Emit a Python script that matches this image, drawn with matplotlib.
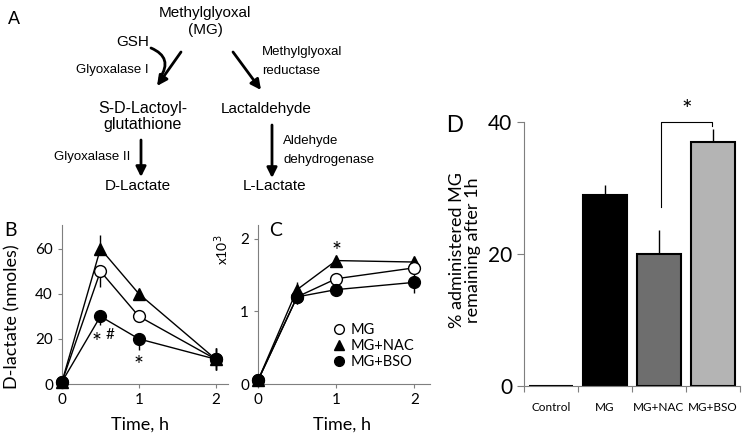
import numpy as np
import matplotlib.pyplot as plt
from matplotlib.lines import Line2D

# panel B / C data (time in h)
time = [0, 0.5, 1, 2]
b_mg = [1, 50, 30, 11]
b_nac = [1, 60, 40, 11]
b_bso = [1, 30, 20, 11]
b_mg_err = [[0, 7, 0, 5], [0, 0, 0, 5]]
b_nac_err = [[0, 0, 0, 5], [0, 6, 0, 5]]
b_bso_err = [[0, 4, 5, 5], [0, 0, 0, 5]]

c_mg = [0.05, 1.2, 1.45, 1.6]
c_nac = [0.05, 1.3, 1.7, 1.68]
c_bso = [0.05, 1.2, 1.3, 1.4]
c_err_lo = [0, 0.1, 0, 0.15]
c_err_hi = [0, 0.1, 0.05, 0.05]

# panel D data
groups = ['Control', 'MG', 'MG+NAC', 'MG+BSO']
remaining = [0, 29, 20, 37]
remaining_err = [0, 1.5, 3.6, 2]
bar_colors = ['#808080', 'black', '#6e6e6e', '#b4b4b4']

W, H = 750, 442
fig = plt.figure(figsize=(7.5, 4.42), dpi=100)
lato = ['Lato', 'DejaVu Sans']
arial = ['Liberation Sans', 'DejaVu Sans']
plt.rcParams['font.family'] = lato
axcol = '#7f7f7f'


def rect(l, t, r, b):
    return [l / W, 1 - b / H, (r - l) / W, (b - t) / H]


# ---- panel A: pathway, drawn in pixel coordinates
a0 = fig.add_axes([0, 0, 1, 1])
a0.set_xlim(0, W)
a0.set_ylim(H, 0)
a0.axis('off')

def t(x, y, s, size=11, ha='center'):
    a0.text(x, y, s, fontsize=size, ha=ha, va='center', family=arial)

t(14, 19, 'A', 13)
t(205, 13, 'Methylglyoxal')
t(205, 30, '(MG)')
t(133, 42, 'GSH')
t(112, 70, 'Glyoxalase I', 9.5)
t(262, 52, 'Methylglyoxal', 9.5, 'left')
t(262, 71, 'reductase', 9.5, 'left')
t(143, 108, 'S-D-Lactoyl-', 11.5)
t(143, 125, 'glutathione', 11.5)
t(266, 109, 'Lactaldehyde')
t(92, 157, 'Glyoxalase II', 9.5)
t(138, 186, 'D-Lactate')
t(275, 186, 'L-Lactate')
t(283, 141, 'Aldehyde', 9.5, 'left')
t(283, 160, 'dehydrogenase', 9.5, 'left')
t(455, 126, 'D', 17)

ap = dict(arrowstyle='-|>', lw=2, color='black', mutation_scale=15, shrinkA=0, shrinkB=0)
a0.annotate('', xy=(157, 86), xytext=(181, 52), arrowprops=ap)
a0.annotate('', xy=(261, 90), xytext=(233, 52), arrowprops=ap)
a0.annotate('', xy=(141, 177), xytext=(141, 140), arrowprops=ap)
a0.annotate('', xy=(272, 178), xytext=(272, 125), arrowprops=ap)
a0.annotate('', xy=(160, 78), xytext=(151, 48),
            arrowprops=dict(arrowstyle='-', lw=2, color='black', shrinkA=0, shrinkB=0,
                            connectionstyle='arc3,rad=-0.6'))


def style(ax):
    for s in ['top', 'right']:
        ax.spines[s].set_visible(False)
    for s in ['left', 'bottom']:
        ax.spines[s].set_color(axcol)
    ax.tick_params(colors=axcol, labelcolor='black', length=3, labelsize=11)


def series(ax, y, err, mk, fc, ms=8.5):
    ax.errorbar(time, y, yerr=err, fmt='-', color='black', lw=1, elinewidth=1, capsize=0,
                marker=mk, ms=ms, mfc=fc, mec='black', mew=1, clip_on=False, zorder=3)


# ---- panel B
axB = fig.add_axes(rect(62, 225, 228, 384))
style(axB)
series(axB, b_nac, b_nac_err, '^', 'black', 9)
series(axB, b_mg, b_mg_err, 'o', 'white')
series(axB, b_bso, b_bso_err, 'o', 'black')
axB.set_xlim(0, 2.16)
axB.set_ylim(0, 70.5)
axB.set_xticks([0, 1, 2])
axB.set_yticks([0, 20, 40, 60])
axB.text(0.455, 18.5, '*', fontsize=17, ha='center', va='center')
axB.text(0.62, 21.7, '#', fontsize=11, ha='center', va='center')
axB.text(1, 8.3, '*', fontsize=17, ha='center', va='center')
fig.text(12 / W, 1 - 317 / H, 'D-lactate (nmoles)', rotation=90, fontsize=13,
         ha='center', va='center')
fig.text(140 / W, 1 - 425 / H, 'Time, h', fontsize=13, ha='center', va='center')
fig.text(11 / W, 1 - 230 / H, 'B', fontsize=14, ha='center', va='center')

# ---- panel C
axC = fig.add_axes(rect(258, 225, 430, 384))
style(axC)
series(axC, c_nac, [c_err_lo, c_err_hi], '^', 'black', 9)
series(axC, c_mg, [c_err_lo, c_err_hi], 'o', 'white')
series(axC, c_bso, [c_err_lo, c_err_hi], 'o', 'black')
axC.set_xlim(0, 2.2)
axC.set_ylim(0, 2.19)
axC.set_xticks([0, 1, 2])
axC.set_yticks([0, 1, 2])
axC.text(1, 1.83, '*', fontsize=17, ha='center', va='center')
fig.text(222 / W, 1 - 250 / H, 'x10$^3$', rotation=90, fontsize=10, ha='center', va='center')
fig.text(342 / W, 1 - 425 / H, 'Time, h', fontsize=13, ha='center', va='center')
fig.text(276 / W, 1 - 230 / H, 'C', fontsize=14, ha='center', va='center')
hs = [Line2D([], [], ls='none', marker='o', mfc='white', mec='black', ms=7),
      Line2D([], [], ls='none', marker='^', mfc='black', mec='black', ms=7),
      Line2D([], [], ls='none', marker='o', mfc='black', mec='black', ms=7)]
axC.legend(hs, ['MG', 'MG+NAC', 'MG+BSO'], loc='upper left', bbox_to_anchor=(333 / W, 1 - 323 / H),
           bbox_transform=fig.transFigure, frameon=False, handlelength=0.8, handletextpad=0.4,
           labelspacing=0.15, borderpad=0, borderaxespad=0, fontsize=10.5)

# ---- panel D
axD = fig.add_axes(rect(524, 122.3, 740, 385.7))
style(axD)
xc = np.arange(len(groups)) + 0.5
axD.bar(xc, remaining, width=0.8, color=bar_colors, edgecolor='black', lw=1.5, zorder=2)
axD.errorbar(xc[1:], remaining[1:], yerr=[[0] * 3, remaining_err[1:]], fmt='none',
             ecolor='black', elinewidth=1, capsize=0, zorder=1)
axD.set_xlim(0, 4)
axD.set_ylim(0, 40)
axD.set_yticks([0, 20, 40])
axD.tick_params(axis='y', labelsize=15, length=5)
axD.set_xticks(np.arange(5))
axD.set_xticklabels([])
axD.set_xticks(xc, minor=True)
axD.set_xticklabels(groups, minor=True, fontsize=8.5)
axD.tick_params(axis='x', which='minor', length=0, pad=12)
axD.tick_params(axis='x', which='major', length=4)
axD.plot([2.54, 2.54, 3.49, 3.49], [27.2, 40, 40, 39.5], color='black', lw=0.8, clip_on=False)
axD.text(3.02, 41.8, '*', fontsize=18, ha='center', va='center')
fig.text(465 / W, 1 - 250 / H, '% administered MG\nremaining after 1h', rotation=90,
         fontsize=13, ha='center', va='center', linespacing=1.05)

fig.savefig('out.png', dpi=100)
